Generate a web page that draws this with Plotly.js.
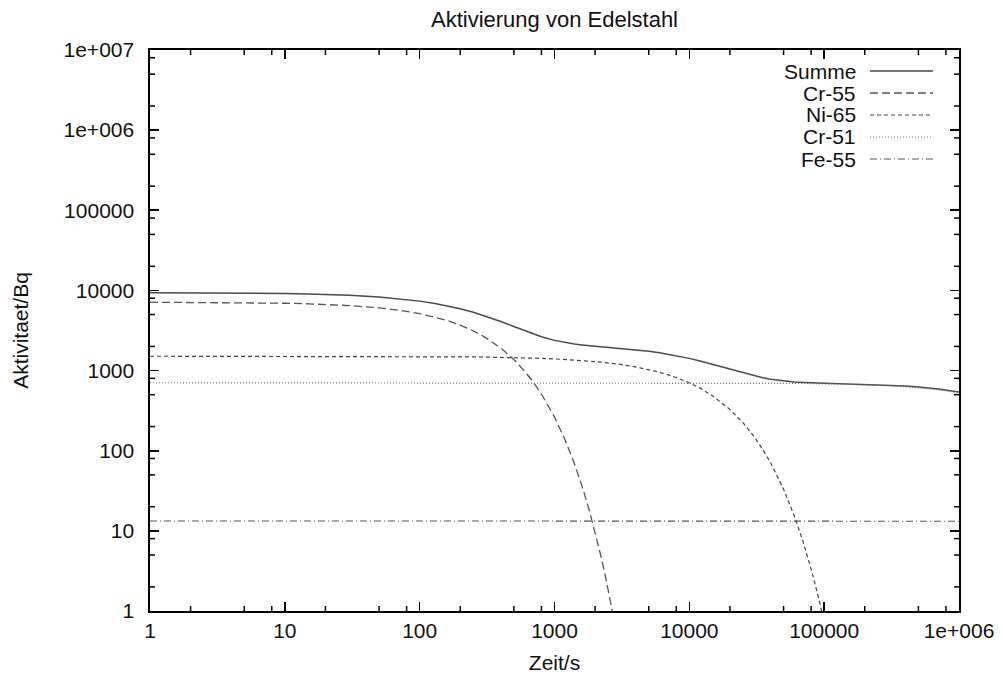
<!DOCTYPE html>
<html>
<head>
<meta charset="utf-8">
<script src="https://cdn.plot.ly/plotly-3.0.1.min.js"></script>
<style>html,body{margin:0;padding:0;background:#fff;}#chart{width:1003px;height:682px;}</style>
</head>
<body>
<div id="chart"></div>
<script>
// Time grid (s)
const zeit = [1,2,3,5,7,10,15,20,30,50,
  70,100,130,160,200,250,300,400,500,600,
  700,800,1000,1200,1400,1600,1800,2000,2200,2400,
  2600,2800,3000,4000,5000,6000,7000,8000,10000,12000,
  15000,20000,25000,30000,35000,40000,50000,60000,70000,80000,
  90000,100000,120000,150000,200000,300000,400000,500000,700000,1000000];

// Activities (Bq)
const summe = [9354,9331,9308,9260,9214,9145,9030,8919,8701,8285,
  7895,7356,6867,6424,5898,5329,4848,4090,3542,3145,
  2857,2647,2380,2232,2145,2090,2053,2024,1999,1978,
  1957,1938,1918,1829,1747,1672,1601,1536,1420,1320,
  1195,1042,936.8,864.8,815.3,781.3,741.4,721.6,711.4,705.6,
  701.8,698.9,694.4,688.3,678.6,659.6,641.2,623.2,588.8,541.0];

const cr55 = [7126,7103,7080,7033,6987,6918,6804,6693,6476,6063,
  5675,5139,4654,4214,3693,3130,2654,1907,1371,985,
  708,508.7,262.7,135.7,70.1,36.2,18.7,9.66,4.99,2.58,
  1.33,0.688];

const ni65 = [1510,1510,1510,1509,1509,1509,1508,1508,1507,1504,
  1502,1499,1495,1492,1487,1481,1476,1465,1453,1442,
  1431,1420,1399,1378,1357,1336,1316,1296,1276,1257,
  1238,1219,1201,1112,1030,954.7,884.5,819.4,703.3,603.7,
  480.0,327.6,223.6,152.6,104.1,71.07,33.10,15.42,7.18,3.345,
  1.558,0.726];

const cr51 = [705,705,705,705,705,705,705,705,705,705,
  705,705,705,705,705,705,705,705,705,705,
  705,705,705,705,705,705,705,705,704.6,704.5,
  704.5,704.4,704.4,704.2,704.0,703.8,703.6,703.4,703.0,702.6,
  701.9,700.9,699.9,698.9,697.9,696.9,695.0,692.9,690.9,688.9,
  686.9,684.9,680.9,675.0,665.3,646.3,627.9,610.0,575.6,527.8];

const fe55 = [13.3,13.3,13.3,13.3,13.3,13.3,13.3,13.3,13.3,13.3,
  13.3,13.3,13.3,13.3,13.3,13.3,13.3,13.3,13.3,13.3,
  13.3,13.3,13.3,13.3,13.3,13.3,13.3,13.3,13.3,13.3,
  13.3,13.3,13.3,13.3,13.3,13.3,13.3,13.3,13.3,13.3,
  13.3,13.3,13.3,13.3,13.3,13.3,13.3,13.3,13.3,13.3,
  13.3,13.3,13.29,13.28,13.28,13.27,13.26,13.25,13.23,13.19];

const seriesNames = ["Summe","Cr-55","Ni-65","Cr-51","Fe-55"];

// Tick labels
const xTickVals = [1,10,100,1000,10000,100000,1000000];
const xTickText = ["1","10","100","1000","10000","100000","1e+006"];
const yTickVals = [1,10,100,1000,10000,100000,1000000,10000000];
const yTickText = ["1","10","100","1000","10000","100000","1e+006","1e+007"];
const minorMultipliers = [2,5,8];

const styles = [
  {color:"#4a4a4a", width:1.5, dash:"solid"},
  {color:"#555555", width:1.3, dash:"8px,4px"},
  {color:"#444444", width:1.2, dash:"4px,3px"},
  {color:"#777777", width:1.2, dash:"1px,2px"},
  {color:"#555555", width:1.1, dash:"7px,3px,1px,3px"}
];
const ys = [summe, cr55, ni65, cr51, fe55];

function minorVals(d0, d1){
  const out=[];
  for(let d=d0; d<d1; d++){ minorMultipliers.forEach(m=>out.push(m*Math.pow(10,d))); }
  return out;
}

const FAMILY = "Liberation Sans, Arial, sans-serif";
const mkFont = s => ({family:FAMILY, size:s, color:"#111"});

const L = 150, R = 959, T = 50, B = 611;
const W = R-L, H = B-T;
const xDecades = 6, yDecades = 7;
const px = v => (v-L)/W, py = v => (B-v)/H;

const traces = ys.map((y,i) => ({
  type:"scatter", mode:"lines", name:seriesNames[i],
  x: zeit.slice(0, y.length), y: y,
  line: {color:styles[i].color, width:styles[i].width, dash:styles[i].dash},
  showlegend:false
}));

// Inward tick marks (gnuplot style): minor ticks as paper shapes, major ticks native
const shapes = [], annotations = [];
function addXTicks(vals, len, w){
  vals.forEach(v=>{
    const xp = Math.log10(v)/xDecades;
    shapes.push({type:"line", xref:"paper", yref:"paper", x0:xp, x1:xp, y0:0, y1:len/H, line:{color:"#000", width:w}});
    shapes.push({type:"line", xref:"paper", yref:"paper", x0:xp, x1:xp, y0:1, y1:1-len/H, line:{color:"#000", width:w}});
  });
}
function addYTicks(vals, len, w){
  vals.forEach(v=>{
    const yp = Math.log10(v)/yDecades;
    shapes.push({type:"line", xref:"paper", yref:"paper", y0:yp, y1:yp, x0:0, x1:len/W, line:{color:"#000", width:w}});
    shapes.push({type:"line", xref:"paper", yref:"paper", y0:yp, y1:yp, x0:1, x1:1-len/W, line:{color:"#000", width:w}});
  });
}
addXTicks(minorVals(0,xDecades), 5, 1.5);
addYTicks(minorVals(0,yDecades), 5, 1.5);

// Legend: text left of the line sample, as in gnuplot
const legendRows = [71,93,115,137,159];
seriesNames.forEach((n,i)=>{
  annotations.push({xref:"paper", yref:"paper", x:px(858), y:py(legendRows[i]), text:n,
    showarrow:false, xanchor:"right", yanchor:"middle", font:mkFont(21)});
  shapes.push({type:"line", xref:"paper", yref:"paper", x0:px(870), x1:px(933),
    y0:py(legendRows[i]), y1:py(legendRows[i]),
    line:{color:styles[i].color, width:styles[i].width, dash:styles[i].dash}});
});

const layout = {
  width:1003, height:682,
  margin:{l:L, r:1003-R, t:T, b:682-B},
  title:{text:"Aktivierung von Edelstahl", font:mkFont(22),
    x:0.5, xref:"paper", y:1-19/682, yref:"container", yanchor:"middle"},
  xaxis:{type:"log", range:[0,xDecades], tickmode:"array", tickvals:xTickVals, ticktext:xTickText,
    ticks:"inside", ticklen:9, tickwidth:1.6, tickcolor:"#000", showline:true, mirror:"ticks",
    linecolor:"#000", linewidth:1.6, showgrid:false, tickfont:mkFont(21),
    title:{text:"Zeit/s", font:mkFont(21), standoff:14}},
  yaxis:{type:"log", range:[0,yDecades], tickmode:"array", tickvals:yTickVals, ticktext:yTickText,
    ticks:"inside", ticklen:9, tickwidth:1.6, tickcolor:"#000", showline:true, mirror:"ticks",
    linecolor:"#000", linewidth:1.6, showgrid:false, tickfont:mkFont(21),
    ticklabelstandoff:10,
    title:{text:"Aktivitaet/Bq", font:mkFont(21), standoff:29}},
  annotations:annotations, shapes:shapes,
  showlegend:false
};

Plotly.newPlot("chart", traces, layout, {staticPlot:true});
</script>
</body>
</html>
